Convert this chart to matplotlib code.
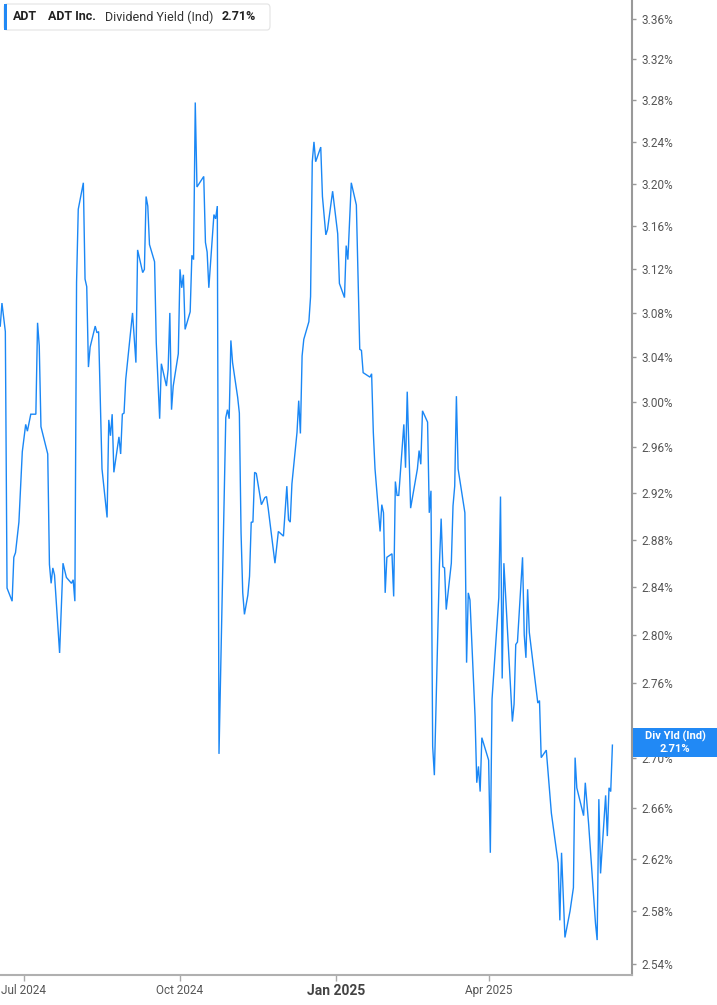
import matplotlib
matplotlib.use('Agg')
import matplotlib.pyplot as plt
from matplotlib.ticker import FixedLocator, NullLocator, FixedFormatter
from matplotlib.patches import FancyBboxPatch, Rectangle
import pandas as pd

plt.rcParams['font.family'] = ['Roboto', 'DejaVu Sans']

# ---------------- data ----------------
dates = [
    '2024-06-17', '2024-06-18', '2024-06-20', '2024-06-21', '2024-06-24', '2024-06-25', '2024-06-26', '2024-06-28',
    '2024-06-30', '2024-07-02', '2024-07-03', '2024-07-05', '2024-07-08', '2024-07-09', '2024-07-10', '2024-07-11',
    '2024-07-15', '2024-07-16', '2024-07-17', '2024-07-18', '2024-07-19', '2024-07-22', '2024-07-24', '2024-07-26',
    '2024-07-29', '2024-07-30', '2024-07-31', '2024-08-01', '2024-08-02', '2024-08-05', '2024-08-06', '2024-08-07',
    '2024-08-08', '2024-08-09', '2024-08-12', '2024-08-13', '2024-08-14', '2024-08-16', '2024-08-19', '2024-08-20',
    '2024-08-21', '2024-08-22', '2024-08-23', '2024-08-26', '2024-08-27', '2024-08-28', '2024-08-29', '2024-08-30',
    '2024-09-03', '2024-09-05', '2024-09-06', '2024-09-09', '2024-09-10', '2024-09-11', '2024-09-12', '2024-09-13',
    '2024-09-16', '2024-09-17', '2024-09-19', '2024-09-20', '2024-09-23', '2024-09-24', '2024-09-25', '2024-09-26',
    '2024-09-27', '2024-09-30', '2024-10-01', '2024-10-02', '2024-10-03', '2024-10-04', '2024-10-07', '2024-10-08',
    '2024-10-09', '2024-10-10', '2024-10-11', '2024-10-15', '2024-10-16', '2024-10-17', '2024-10-18', '2024-10-21',
    '2024-10-22', '2024-10-23', '2024-10-24', '2024-10-28', '2024-10-29', '2024-10-30', '2024-10-31', '2024-11-01',
    '2024-11-04', '2024-11-05', '2024-11-06', '2024-11-07', '2024-11-08', '2024-11-10', '2024-11-11', '2024-11-12',
    '2024-11-13', '2024-11-14', '2024-11-15', '2024-11-18', '2024-11-20', '2024-11-21', '2024-11-22', '2024-11-26',
    '2024-11-28', '2024-12-01', '2024-12-03', '2024-12-04', '2024-12-05', '2024-12-06', '2024-12-09', '2024-12-10',
    '2024-12-11', '2024-12-12', '2024-12-13', '2024-12-16', '2024-12-17', '2024-12-18', '2024-12-19', '2024-12-20',
    '2024-12-23', '2024-12-24', '2024-12-26', '2024-12-27', '2024-12-30', '2025-01-02', '2025-01-03', '2025-01-06',
    '2025-01-07', '2025-01-08', '2025-01-10', '2025-01-13', '2025-01-15', '2025-01-16', '2025-01-17', '2025-01-21',
    '2025-01-22', '2025-01-23', '2025-01-24', '2025-01-27', '2025-01-28', '2025-01-29', '2025-01-30', '2025-01-31',
    '2025-02-03', '2025-02-04', '2025-02-05', '2025-02-06', '2025-02-07', '2025-02-10', '2025-02-11', '2025-02-12',
    '2025-02-14', '2025-02-18', '2025-02-19', '2025-02-20', '2025-02-21', '2025-02-24', '2025-02-25', '2025-02-26',
    '2025-02-27', '2025-02-28', '2025-03-03', '2025-03-04', '2025-03-05', '2025-03-06', '2025-03-07', '2025-03-10',
    '2025-03-11', '2025-03-12', '2025-03-13', '2025-03-14', '2025-03-18', '2025-03-19', '2025-03-20', '2025-03-21',
    '2025-03-24', '2025-03-25', '2025-03-26', '2025-03-27', '2025-03-28', '2025-04-01', '2025-04-02', '2025-04-03',
    '2025-04-07', '2025-04-08', '2025-04-09', '2025-04-10', '2025-04-15', '2025-04-16', '2025-04-17', '2025-04-18',
    '2025-04-21', '2025-04-22', '2025-04-23', '2025-04-24', '2025-04-25', '2025-04-30', '2025-05-01', '2025-05-02',
    '2025-05-05', '2025-05-08', '2025-05-12', '2025-05-13', '2025-05-14', '2025-05-16', '2025-05-19', '2025-05-21',
    '2025-05-22', '2025-05-23', '2025-05-27', '2025-05-28', '2025-05-30', '2025-06-03', '2025-06-04', '2025-06-05',
    '2025-06-06', '2025-06-09', '2025-06-10', '2025-06-11', '2025-06-12', '2025-06-13',
]

div_yield = [
    3.068, 3.089, 3.063, 2.839, 2.828, 2.865, 2.869, 2.895,
    2.956, 2.980, 2.974, 2.989, 2.989, 3.071, 3.050, 2.978,
    2.954, 2.859, 2.843, 2.856, 2.850, 2.785, 2.860, 2.848,
    2.843, 2.846, 2.828, 3.108, 3.176, 3.201, 3.111, 3.104,
    3.031, 3.049, 3.068, 3.062, 3.063, 2.941, 2.899, 2.984,
    2.970, 2.989, 2.938, 2.969, 2.954, 2.989, 2.990, 3.020,
    3.080, 3.035, 3.138, 3.117, 3.120, 3.188, 3.179, 3.143,
    3.127, 3.053, 2.985, 3.034, 3.014, 3.029, 3.080, 2.993,
    3.014, 3.043, 3.120, 3.103, 3.115, 3.065, 3.081, 3.133,
    3.129, 3.278, 3.197, 3.207, 3.145, 3.136, 3.103, 3.171,
    3.167, 3.179, 2.703, 2.986, 2.993, 2.985, 3.055, 3.035,
    3.004, 2.990, 2.886, 2.835, 2.817, 2.833, 2.849, 2.895,
    2.895, 2.938, 2.937, 2.910, 2.916, 2.917, 2.907, 2.860,
    2.887, 2.883, 2.926, 2.897, 2.895, 2.928, 2.973, 3.001,
    2.972, 3.041, 3.056, 3.072, 3.095, 3.221, 3.240, 3.221,
    3.235, 3.188, 3.152, 3.157, 3.193, 3.153, 3.107, 3.094,
    3.142, 3.129, 3.201, 3.180, 3.047, 3.046, 3.026, 3.022,
    3.025, 2.973, 2.941, 2.887, 2.910, 2.903, 2.835, 2.865,
    2.868, 2.832, 2.930, 2.918, 2.918, 2.980, 2.942, 3.009,
    2.907, 2.941, 2.957, 2.945, 2.992, 2.982, 2.903, 2.922,
    2.709, 2.686, 2.859, 2.898, 2.857, 2.856, 2.821, 2.860,
    2.909, 2.926, 3.005, 2.941, 2.903, 2.777, 2.835, 2.829,
    2.733, 2.680, 2.693, 2.673, 2.716, 2.698, 2.625, 2.747,
    2.831, 2.917, 2.764, 2.860, 2.729, 2.743, 2.792, 2.794,
    2.865, 2.800, 2.781, 2.838, 2.802, 2.744, 2.746, 2.700,
    2.706, 2.656, 2.617, 2.573, 2.625, 2.560, 2.580, 2.598,
    2.700, 2.676, 2.654, 2.680, 2.647, 2.571, 2.558, 2.667,
    2.609, 2.670, 2.638, 2.676, 2.673, 2.710,
]

y_ticks = [2.54, 2.58, 2.62, 2.66, 2.70, 2.72, 2.76, 2.80, 2.84, 2.88, 2.92, 2.96,
           3.00, 3.04, 3.08, 3.12, 3.16, 3.20, 3.24, 3.28, 3.32, 3.36]
# the 2.72% tick sits under the last-value badge, so its label is not shown
hidden_tick = 2.72
x_tick_dates = ['2024-07-01', '2024-10-01', '2025-01-01', '2025-04-01']
x_tick_labels = ['Jul 2024', 'Oct 2024', 'Jan 2025', 'Apr 2025']

ticker_symbol = 'ADT'
company = 'ADT Inc.'
metric = 'Dividend Yield (Ind)'
last_value_label = '2.71%'
badge_title = 'Div Yld (Ind)'

# ---------------- figure ----------------
W, H = 717, 1005
fig = plt.figure(figsize=(W / 100, H / 100), dpi=100)
fig.patch.set_facecolor('white')

ax = fig.add_axes([0, 30 / H, 632 / W, 975 / H])
x = pd.to_datetime(dates)
line_color = '#1a87f5'
ax.plot(x, div_yield, color=line_color, lw=1.0, solid_joinstyle='miter')

ax.set_yscale('log')
ax.set_ylim(2.5317, 3.379)
ax.set_xlim(pd.Timestamp('2024-07-01') - pd.Timedelta(days=14.15),
            pd.Timestamp('2024-07-01') + pd.Timedelta(days=358.55))

ax.yaxis.tick_right()
ax.yaxis.set_major_locator(FixedLocator(y_ticks))
ax.yaxis.set_minor_locator(NullLocator())
ax.yaxis.set_major_formatter(FixedFormatter(
    ['' if t == hidden_tick else f'{t:.2f}%' for t in y_ticks]))
ax.tick_params(axis='y', which='major', direction='out', length=3, width=1,
               color='#999999', labelsize=8.5, labelcolor='#555555', pad=4)

ax.set_xticks(pd.to_datetime(x_tick_dates))
ax.set_xticklabels(x_tick_labels)
ax.tick_params(axis='x', direction='out', length=4, width=1, color='#aaaaaa',
               labelsize=8.5, labelcolor='#555555', pad=2.5)
for lbl in ax.get_xticklabels():
    if lbl.get_text() == 'Jan 2025':
        lbl.set_fontweight('bold')
        lbl.set_fontsize(10)
        lbl.set_color('#444444')

for side in ['left', 'top']:
    ax.spines[side].set_visible(False)
ax.spines['right'].set_color('#999999')
ax.spines['right'].set_linewidth(1.5)
ax.spines['bottom'].set_color('#b0b0b0')
ax.spines['bottom'].set_linewidth(1.5)

# ---------------- badge on right axis ----------------
def fx(px):
    return px / W

def fy(py):
    return 1 - py / H

badge_color = '#2189f5'
fig.patches.append(Rectangle((fx(633), fy(757)), fx(717) - fx(633), fy(728) - fy(757),
                             transform=fig.transFigure, facecolor=badge_color,
                             edgecolor='none', zorder=5))
fig.text(fx(675), fy(736), badge_title, color='white', fontsize=8, fontweight='bold',
         ha='center', va='center', zorder=6)
fig.text(fx(675), fy(749), last_value_label, color='white', fontsize=8, fontweight='bold',
         ha='center', va='center', zorder=6)

# ---------------- header legend ----------------
fig.patches.append(FancyBboxPatch((fx(4), fy(30)), fx(270) - fx(4), fy(4) - fy(30),
                                  boxstyle='round,pad=0,rounding_size=0.004',
                                  transform=fig.transFigure, facecolor='white',
                                  edgecolor='#e3e3e3', linewidth=0.8, zorder=5))
fig.patches.append(Rectangle((fx(4), fy(30)), fx(7) - fx(4), fy(4) - fy(30),
                             transform=fig.transFigure, facecolor=badge_color,
                             edgecolor='none', zorder=6))
hy = fy(17)
fig.text(fx(12.5), hy, ticker_symbol, fontsize=9, fontweight='bold', color='#222222',
         ha='left', va='center', zorder=7)
fig.text(fx(47.5), hy, company, fontsize=9, fontweight='bold', color='#222222',
         ha='left', va='center', zorder=7)
fig.text(fx(105), hy, metric, fontsize=9, color='#333333',
         ha='left', va='center', zorder=7)
fig.text(fx(221.5), hy, last_value_label, fontsize=9, fontweight='bold', color='#222222',
         ha='left', va='center', zorder=7)

fig.savefig('out.png', dpi=100)
